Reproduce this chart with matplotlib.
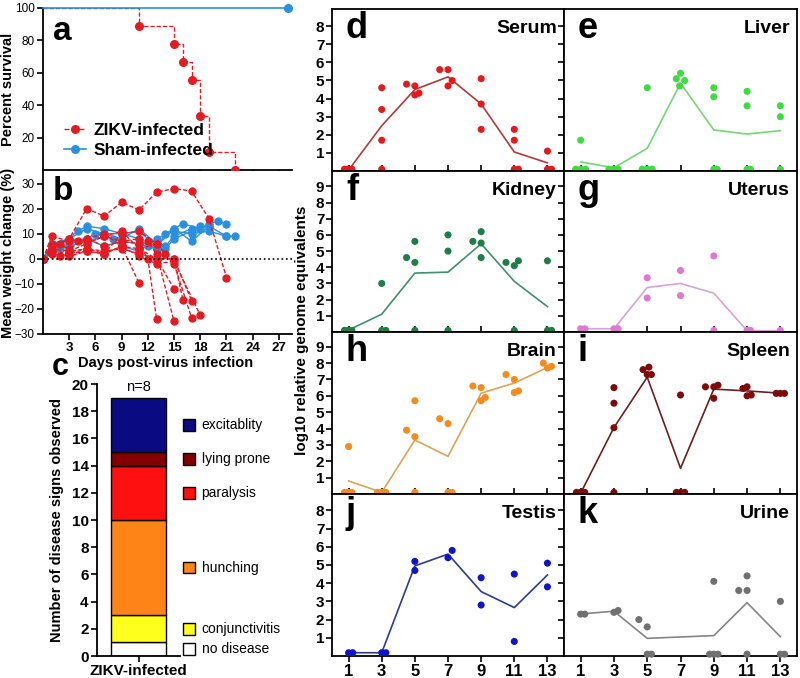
import matplotlib
matplotlib.use("Agg")
import matplotlib.pyplot as plt
import matplotlib.transforms as mtransforms
from matplotlib.lines import Line2D
from matplotlib.patches import Rectangle

plt.rcParams["font.family"] = ["Liberation Sans", "DejaVu Sans"]

# ---- panel a: survival ----
surv_days = [0, 11, 15, 16, 17, 18, 19, 22]
surv_zikv = [100, 88.9, 77.8, 66.7, 55.6, 33.3, 11.1, 0]
sham_days = [0, 28]
sham_surv = [100, 100]

# ---- panel b: weight change per mouse ----
zikv_days = [
    [0, 1, 3, 5, 7, 9, 11, 13, 15, 17, 19, 21],
    [0, 1, 3, 5, 7, 9, 11, 12, 13],
    [0, 1, 3, 4, 5, 7, 9, 11, 12, 13, 15],
    [0, 1, 3, 5, 7, 9, 11, 13, 15],
    [0, 1, 3, 5, 7, 9, 11, 13, 15, 16],
    [0, 2, 3, 5, 7, 9, 11, 13, 14, 15, 17],
    [0, 1, 3, 5, 7, 9, 11, 13, 15, 17],
    [0, 1, 2, 3, 5, 7, 9, 11, 13, 15, 18],
    [0, 1, 3, 5, 7, 9, 11],
]
zikv_weight = [
    [0, 5, 8, 20, 17, 22.5, 19.5, 26.5, 28, 27, 16, -7.5],
    [0, 9, 7, 8, 5, 7, 6, 0, -24],
    [0, 4, 8, 7, 6, 9, 7, 8, 7, 2, -25],
    [0, 3, 2, 4, 3, 4, 2, 0, -12],
    [0, 2, 1, 3, 2, 5, 4, 0, 0, -16.3],
    [0, 6, 3, 4, 2, 10, 11, 6, 2, 0, -16.7],
    [0, 4, 3, 6, 9, 11, 4, 6, -2, -23.5],
    [0, 3, 1, 2, 3, 2, 5, 1, -2, -1, -22.5],
    [0, 6, 4, 8, 10, 5, -9.7],
]
sham_wdays = [
    [0, 2, 4, 5, 7, 9, 11, 13, 15, 16, 18, 19, 20, 21],
    [0, 1, 3, 5, 6, 7, 9, 11, 13, 14, 15, 17, 19, 21, 22],
    [0, 1, 3, 5, 7, 8, 9, 11, 13, 15, 17, 19, 21],
    [0, 2, 3, 5, 7, 9, 11, 13, 14, 15, 17, 19],
    [0, 1, 3, 5, 7, 9, 11, 12, 13, 14, 15, 17, 18],
]
sham_weight = [
    [0, 6, 11, 13, 12, 10, 11, 5, 12, 14, 12, 14, 15, 14],
    [0, 6, 7, 8, 10, 10, 8, 12, 6, 5, 9, 12, 13, 9, 9],
    [0, 5, 5, 7, 9, 8, 5, 3, 8, 11, 10, 11, 9],
    [0, 4, 6, 8, 5, 7, 6, 4, 10, 12, 7, 13],
    [0, 6, 8, 12, 10, 10, 8, 5, 4, 4, 8, 11, 13],
]

# ---- panel c: disease signs ----
signs = ["no disease", "conjunctivitis", "hunching", "paralysis", "lying prone", "excitablity"]
sign_counts = [1, 2, 7, 4, 1, 4]
sign_colors = ["#ffffff", "#ffff1e", "#ff8418", "#ff1010", "#820000", "#0a0a82"]

# ---- panels d-k: viral load ----
days = [1, 3, 5, 7, 9, 11, 13]

serum_x = [0.75, 0.95, 1.2, 3, 3, 3, 3, 4.5, 5, 5, 5.25, 6.5, 7, 7, 7.25, 9, 9, 9,
           11, 11, 11, 11.25, 13, 13, 13.25]
serum_y = [0.1, 0.1, 0.1, 4.6, 3.4, 1.7, 0.1, 4.8, 4.7, 4.2, 4.3, 5.6, 5.6, 4.7, 5.0,
           5.1, 3.7, 2.3, 2.3, 1.7, 0.1, 0.1, 1.1, 0.1, 0.1]
serum_mean = [0.05, 2.5, 4.5, 5.2, 3.7, 1.05, 0.45]

liver_x = [1, 0.7, 1, 1.3, 2.7, 3, 3.25, 5, 4.7, 5, 5.3, 7, 6.75, 7.25, 6.95,
           9, 9, 9, 9.2, 11, 11, 11, 11.2, 13, 13, 13]
liver_y = [1.7, 0.1, 0.1, 0.1, 0.1, 0.1, 0.1, 4.6, 0.1, 0.1, 0.1, 5.4, 5.1, 5.0, 4.7,
           4.6, 4.1, 0.1, 0.1, 4.4, 3.6, 0.1, 0.1, 3.6, 3.0, 0.1]
liver_mean = [0.5, 0.18, 1.25, 4.85, 2.27, 2.04, 2.23]

kidney_x = [0.75, 0.95, 1.2, 3, 3, 3.25, 4.5, 5, 5, 5, 7, 7, 7, 8.5, 9, 9, 9,
            10.5, 11, 11.25, 11, 13, 13, 13.25]
kidney_y = [0.1, 0.1, 0.1, 3.0, 0.1, 0.1, 4.6, 5.6, 4.3, 0.1, 6.0, 5.0, 0.1, 5.6, 6.2,
            5.5, 4.6, 4.3, 4.1, 4.4, 0.1, 4.4, 0.1, 0.1]
kidney_mean = [0.12, 1.1, 3.64, 3.7, 5.45, 3.13, 1.57]

uterus_x = [1, 1.25, 3, 3.25, 5, 5, 7, 7, 9, 9, 11, 11.2, 13]
uterus_y = [0.2, 0.2, 0.2, 0.2, 3.35, 2.1, 3.8, 2.25, 4.7, 0.1, 0.1, 0.1, 0.1]
uterus_mean = [0.2, 0.2, 2.75, 3.0, 2.4, 0.08, 0.08]

brain_x = [1, 0.75, 0.95, 1.2, 2.75, 3, 3.25, 4.5, 5, 5, 5, 6.5, 7, 7, 7.25,
           8.5, 9, 9, 9.25, 10.5, 11, 11, 11.25, 12.75, 13, 13.25]
brain_y = [2.9, 0.1, 0.1, 0.1, 0.1, 0.1, 0.1, 3.9, 5.7, 3.5, 0.1, 4.6, 4.3, 0.1, 0.1,
           6.6, 6.5, 5.7, 5.9, 7.3, 7.0, 6.2, 6.3, 8.0, 7.7, 7.8]
brain_mean = [0.8, 0.1, 3.3, 2.3, 6.16, 6.78, 7.73]

spleen_x = [0.75, 1, 1.25, 3, 3, 3, 3, 4.75, 5.1, 5, 5.25, 7, 6.75, 7, 7.25,
            8.5, 9, 9.25, 9, 10.75, 11, 11, 11.25, 12.75, 13, 13.25]
spleen_y = [0.1, 0.1, 0.1, 6.5, 5.55, 4.05, 0.1, 7.6, 7.75, 7.3, 7.3, 6.05, 0.1, 0.1, 0.1,
            6.55, 6.55, 6.65, 5.85, 6.45, 6.55, 6.0, 6.05, 6.15, 6.15, 6.15]
spleen_mean = [0.05, 4.06, 7.14, 1.57, 6.41, 6.3, 6.16]

testis_x = [1, 1.25, 3, 3.25, 5, 5, 7, 7.25, 9, 9, 11, 11, 13, 13]
testis_y = [0.18, 0.18, 0.18, 0.18, 5.2, 4.7, 5.4, 5.8, 4.3, 2.8, 4.5, 0.8, 5.1, 3.8]
testis_mean = [0.18, 0.18, 4.95, 5.6, 3.54, 2.66, 4.45]

urine_days = [1, 3, 5, 9, 11, 13]
urine_x = [1, 1.25, 3, 3.25, 4.5, 5, 5, 5.25, 9, 8.75, 9, 9.25, 11, 10.5, 11, 11,
           13, 13, 13.25]
urine_y = [2.3, 2.3, 2.4, 2.5, 2.0, 1.6, 0.1, 0.1, 4.1, 0.1, 0.1, 0.1, 4.4, 3.6, 3.6, 0.1,
           3.0, 0.1, 0.1]
urine_mean = [2.31, 2.46, 0.97, 1.12, 2.93, 1.06]

RED = "#e31b23"
BLUE = "#2b8fe0"

W, H = 800, 678
fig = plt.figure(figsize=(W / 100, H / 100), dpi=100)


def add_px_axes(left, top, right, bottom):
    return fig.add_axes([left / W, 1 - bottom / H, (right - left) / W, (bottom - top) / H])


def style_lb(ax, size=8.5):
    for side in ("top", "right"):
        ax.spines[side].set_visible(False)
    for side in ("left", "bottom"):
        ax.spines[side].set_linewidth(1.3)
    ax.tick_params(direction="out", length=4, width=1.2, labelsize=size, pad=2)


# panel a
ax_a = add_px_axes(43, 8, 292, 170)
ax_a.step(surv_days, surv_zikv, where="post", color=RED, ls="--", lw=1, dashes=(3, 1.5))
ax_a.plot(surv_days[1:], surv_zikv[1:], "o", color=RED, ms=5.5, clip_on=False, zorder=5)
ax_a.plot(sham_days, sham_surv, "-o", color=BLUE, lw=1.2, ms=5.5, markevery=[1],
          clip_on=False, zorder=6)
ax_a.set_xlim(0, 28.5)
ax_a.set_ylim(0, 100)
ax_a.set_yticks([20, 40, 60, 80, 100])
ax_a.set_xticks(range(3, 28, 3))
ax_a.tick_params(axis="x", labelbottom=False)
style_lb(ax_a)
ax_a.set_ylabel("Percent survival", fontsize=10.5, fontweight="bold")
ax_a.yaxis.set_label_coords(-0.112, 0.5)
ax_a.text(0.04, 0.95, "a", transform=ax_a.transAxes, fontsize=24, fontweight="bold", va="top")
handles = [
    Line2D([], [], color=RED, ls="--", marker="o", ms=5.5, lw=1),
    Line2D([], [], color=BLUE, ls="-", marker="o", ms=5.5, lw=1.2),
]
ax_a.legend(handles, ["ZIKV-infected", "Sham-infected"], loc="lower left",
            bbox_to_anchor=(0.02, -0.02), frameon=False, handlelength=1.3,
            handletextpad=0.4, labelspacing=0.25, prop={"size": 12.5, "weight": "bold"})

# panel b
ax_b = add_px_axes(43, 171, 292, 334)
for d, w in zip(sham_wdays, sham_weight):
    ax_b.plot(d, w, "-o", color=BLUE, lw=1, ms=5)
for d, w in zip(zikv_days, zikv_weight):
    ax_b.plot(d, w, "--o", color=RED, lw=1, ms=5, dashes=(3, 1.5))
ax_b.axhline(0, color="black", ls=":", lw=1.2)
ax_b.set_xlim(0, 28.5)
ax_b.set_ylim(-30, 35)
ax_b.set_yticks([-30, -20, -10, 0, 10, 20, 30])
ax_b.set_xticks(range(3, 28, 3))
style_lb(ax_b)
ax_b.tick_params(axis="x", labelsize=9.5)
for lab in ax_b.get_xticklabels():
    lab.set_fontweight("bold")
ax_b.set_ylabel("Mean weight change (%)", fontsize=10.5, fontweight="bold")
ax_b.yaxis.set_label_coords(-0.112, 0.5)
ax_b.text(0.04, 0.97, "b", transform=ax_b.transAxes, fontsize=24, fontweight="bold", va="top")
fig.text(166 / W, 1 - 363 / H, "Days post-virus infection", ha="center", va="center",
         fontsize=10.5, fontweight="bold")
fig.text(52 / W, 1 - 367 / H, "c", ha="left", va="center", fontsize=22, fontweight="bold")

# panel c
ax_c = add_px_axes(97, 384, 180, 656)
bottom = 0
trans_c = mtransforms.blended_transform_factory(ax_c.transAxes, ax_c.transData)
for name, cnt, col in zip(signs, sign_counts, sign_colors):
    ax_c.bar(0, cnt, bottom=bottom, width=1.0, color=col, edgecolor="black", lw=1)
    mid = bottom + cnt / 2
    ax_c.add_patch(Rectangle((1.04, mid - 0.42), 0.14, 0.84, transform=trans_c,
                             facecolor=col, edgecolor="black", lw=1, clip_on=False))
    ax_c.text(1.26, mid, name, transform=trans_c, va="center", ha="left", fontsize=10)
    bottom += cnt
ax_c.text(0, 19.75, "n=8", ha="center", va="center", fontsize=10.5)
ax_c.set_xlim(-0.75, 0.75)
ax_c.set_ylim(0, 20)
ax_c.set_yticks(range(0, 21, 2))
ax_c.set_xticks([0])
ax_c.set_xticklabels(["ZIKV-infected"])
style_lb(ax_c)
for lab in ax_c.get_xticklabels():
    lab.set_fontweight("bold")
    lab.set_fontsize(11)
for lab in ax_c.get_yticklabels():
    lab.set_fontweight("bold")
    lab.set_fontsize(11)
ax_c.set_ylabel("Number of disease signs observed", fontsize=10.5, fontweight="bold")
ax_c.yaxis.set_label_coords(-0.40, 0.5)

# panels d-k
panels = [
    ("d", "Serum", serum_x, serum_y, days, serum_mean, "#e31b1e", "#b03a3a"),
    ("e", "Liver", liver_x, liver_y, days, liver_mean, "#3edc3e", "#74d674"),
    ("f", "Kidney", kidney_x, kidney_y, days, kidney_mean, "#1f7d48", "#3f8f6c"),
    ("g", "Uterus", uterus_x, uterus_y, days, uterus_mean, "#e277d0", "#d8a2d4"),
    ("h", "Brain", brain_x, brain_y, days, brain_mean, "#f28c1e", "#dba456"),
    ("i", "Spleen", spleen_x, spleen_y, days, spleen_mean, "#7c0c0c", "#6e1e1e"),
    ("j", "Testis", testis_x, testis_y, days, testis_mean, "#0c16c8", "#2a3c8e"),
    ("k", "Urine", urine_x, urine_y, urine_days, urine_mean, "#707070", "#858585"),
]
col_px = [(332, 564), (564, 797)]
row_px = [(9, 171), (171, 332), (332, 494), (494, 656)]
row_ymax = [8.95, 9.95, 9.9, 8.9]
row_ticks = [range(1, 9), range(1, 10), range(1, 10), range(1, 9)]

for i, (letter, name, px, py, mdays, mean, pcol, lcol) in enumerate(panels):
    r, c = divmod(i, 2)
    ax = add_px_axes(col_px[c][0], row_px[r][0], col_px[c][1], row_px[r][1])
    ax.plot(mdays, mean, color=lcol, lw=1.2, zorder=2)
    ax.scatter(px, py, s=26, color=pcol, edgecolors="none", zorder=3, clip_on=False)
    ax.set_xlim(0, 14)
    ax.set_ylim(0, row_ymax[r])
    ax.set_xticks(days)
    ax.set_yticks(list(row_ticks[r]))
    for sp in ax.spines.values():
        sp.set_linewidth(1.3)
    last = r == len(row_px) - 1
    ax.tick_params(axis="x", direction="out" if last else "in", length=4, width=1.2,
                   labelbottom=last, labelsize=12, pad=1.5)
    ax.tick_params(axis="y", direction="out", length=4, width=1.2, labelleft=(c == 0),
                   labelsize=11, pad=1.5)
    for lab in ax.get_xticklabels() + ax.get_yticklabels():
        lab.set_fontweight("bold")
    ax.text(0.06, 0.99, letter, transform=ax.transAxes, fontsize=26, fontweight="bold",
            va="top", ha="left")
    ax.text(0.97, 0.93, name, transform=ax.transAxes, fontsize=14, fontweight="bold",
            va="top", ha="right")

fig.text(302 / W, 1 - 330 / H, "log10 relative genome equivalents", rotation=90,
         ha="center", va="center", fontsize=11, fontweight="bold")

fig.savefig("out.png", dpi=100)
